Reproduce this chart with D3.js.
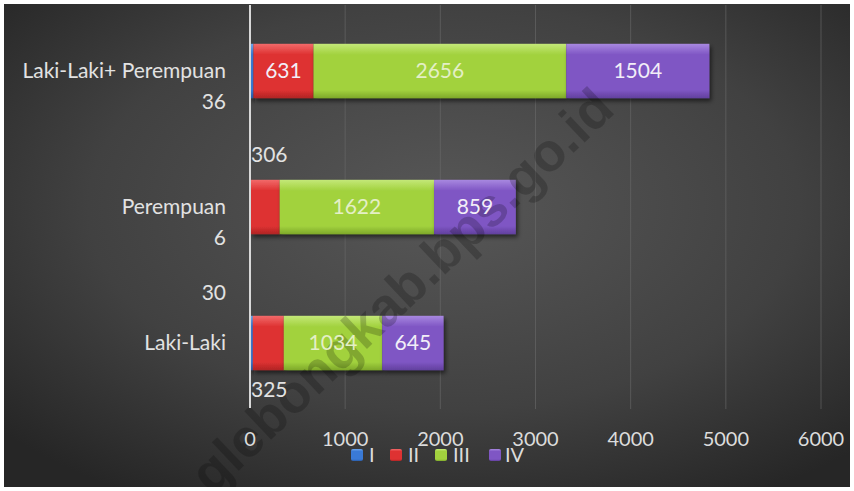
<!DOCTYPE html>
<html><head><meta charset="utf-8">
<script src="https://cdn.jsdelivr.net/npm/d3@7"></script>
<style>html,body{margin:0;padding:0;background:#fff;}svg{display:block;}</style>
</head><body>
<svg id="chart" width="854" height="491"></svg>
<script>
// ---- data ----
const categories = ["Laki-Laki+ Perempuan", "Perempuan", "Laki-Laki"];
const seriesNames = ["I", "II", "III", "IV"];
const seriesI   = [36, 6, 30];
const seriesII  = [631, 306, 325];
const seriesIII = [2656, 1622, 1034];
const seriesIV  = [1504, 859, 645];
const xTicks = [0, 1000, 2000, 3000, 4000, 5000, 6000];

const seriesVals = [seriesI, seriesII, seriesIII, seriesIV];
const rows = categories.map((c, i) => {
  const r = {cat: c};
  seriesNames.forEach((s, k) => r[s] = seriesVals[k][i]);
  return r;
});

const svg = d3.select("#chart");
const W = 854, H = 491;
const font = "Lato, 'Open Sans', sans-serif";

const defs = svg.append("defs");
const bg = defs.append("radialGradient").attr("id", "bg")
  .attr("cx", "0.52").attr("cy", "0.42").attr("r", "0.7");
bg.append("stop").attr("offset", "0").attr("stop-color", "#575757");
bg.append("stop").attr("offset", "0.6").attr("stop-color", "#414141");
bg.append("stop").attr("offset", "1").attr("stop-color", "#262626");

const colors = {
  I:   ["#6ea6ec", "#3a7ad6", "#2a5ca8"],
  II:  ["#f26a6a", "#de3232", "#b02424"],
  III: ["#c4e878", "#a2d23e", "#7ea82a"],
  IV:  ["#a888e0", "#7f56c4", "#62409e"]
};
seriesNames.forEach(s => {
  const g = defs.append("linearGradient").attr("id", "g" + s)
    .attr("x1", 0).attr("y1", 0).attr("x2", 0).attr("y2", 1);
  g.append("stop").attr("offset", "0").attr("stop-color", colors[s][0]);
  g.append("stop").attr("offset", "0.2").attr("stop-color", colors[s][1]);
  g.append("stop").attr("offset", "0.85").attr("stop-color", colors[s][1]);
  g.append("stop").attr("offset", "1").attr("stop-color", colors[s][2]);
});
const sh = defs.append("filter").attr("id", "shadow").attr("x", "-10%").attr("y", "-20%").attr("width", "130%").attr("height", "160%");
sh.append("feDropShadow").attr("dx", 2).attr("dy", 3).attr("stdDeviation", 2).attr("flood-color", "#000").attr("flood-opacity", 0.55);
defs.append("clipPath").attr("id", "clip").append("rect")
  .attr("x", 4).attr("y", 4).attr("width", W - 8).attr("height", H - 8);

// background
svg.append("rect").attr("x", 4).attr("y", 4).attr("width", W - 8).attr("height", H - 8)
  .attr("fill", "url(#bg)");

const x = d3.scaleLinear().domain([0, 6000]).range([250, 821]);
const y = d3.scaleBand().domain(categories).range([3, 411]).paddingInner(0.6).paddingOuter(0.3);

// gridlines
svg.append("g").selectAll("line").data(xTicks.slice(1)).join("line")
  .attr("x1", d => x(d)).attr("x2", d => x(d)).attr("y1", 5).attr("y2", 409)
  .attr("stroke", "#6a6a6a").attr("stroke-width", 1).attr("opacity", 0.6);

// bars
const stack = d3.stack().keys(seriesNames)(rows);
const gBars = svg.append("g");
stack.forEach(layer => {
  gBars.selectAll(null).data(layer).join("rect")
    .attr("x", d => x(d[0])).attr("width", d => x(d[1]) - x(d[0]))
    .attr("y", d => y(d.data.cat)).attr("height", y.bandwidth())
    .attr("fill", "url(#g" + layer.key + ")")
    .attr("filter", "url(#shadow)");
});

// watermark
svg.append("g").attr("clip-path", "url(#clip)").append("text")
  .attr("transform", "translate(212,496) rotate(-43.5)")
  .attr("font-family", "'Liberation Sans', Arial, sans-serif").attr("font-weight", "bold")
  .attr("font-size", 54).attr("fill", "#000").attr("opacity", 0.2)
  .text("glebongkab.bps.go.id");

// axis line
svg.append("line").attr("x1", 250).attr("x2", 250).attr("y1", 5).attr("y2", 408)
  .attr("stroke", "#d8d8d8").attr("stroke-width", 2);

// category labels
svg.append("g").selectAll("text").data(categories).join("text")
  .attr("x", 226).attr("y", d => y(d) + y.bandwidth() / 2)
  .attr("dy", "0.35em").attr("text-anchor", "end")
  .attr("font-family", font).attr("font-size", 21).attr("fill", "#e2e2e2")
  .text(d => d);

// value labels inside bars (III, IV, and II where it fits)
const inside = [];
stack.forEach(layer => {
  layer.forEach((d, i) => {
    if (layer.key === "III" || layer.key === "IV" || (layer.key === "II" && i === 0)) {
      inside.push({key: layer.key, cat: d.data.cat, mid: (d[0] + d[1]) / 2, v: d.data[layer.key]});
    }
  });
});
svg.append("g").selectAll("text").data(inside).join("text")
  .attr("x", d => x(d.mid)).attr("y", d => y(d.cat) + y.bandwidth() / 2)
  .attr("dy", "0.35em").attr("text-anchor", "middle")
  .attr("font-family", font).attr("font-size", 21)
  .attr("fill", d => d.key === "III" ? "#e4efc6" : "#f2eef8")
  .text(d => d.v);

// series I labels (outside, left of axis)
const iOffsets = [31, 31, -50];
svg.append("g").selectAll("text").data(categories).join("text")
  .attr("x", 226).attr("y", (d, i) => y(d) + y.bandwidth() / 2 + iOffsets[i])
  .attr("dy", "0.35em").attr("text-anchor", "end")
  .attr("font-family", font).attr("font-size", 21).attr("fill", "#e2e2e2")
  .text((d, i) => seriesI[i]);

// series II labels displaced outside
const iiOffsets = [null, -52, 47];
svg.append("g").selectAll("text").data([1, 2]).join("text")
  .attr("x", 251).attr("y", i => y(categories[i]) + y.bandwidth() / 2 + iiOffsets[i])
  .attr("dy", "0.35em").attr("text-anchor", "start")
  .attr("font-family", font).attr("font-size", 21).attr("fill", "#e2e2e2")
  .text(i => seriesII[i]);

// x tick labels
svg.append("g").selectAll("text").data(xTicks).join("text")
  .attr("x", d => x(d)).attr("y", 439).attr("dy", "0.35em").attr("text-anchor", "middle")
  .attr("font-family", font).attr("font-size", 20).attr("fill", "#dcdcdc")
  .text(d => d);

// legend
const legX = [351, 390, 435, 489];
const legT = [369, 408, 453, 505];
const lg = svg.append("g");
seriesNames.forEach((s, k) => {
  lg.append("rect").attr("x", legX[k]).attr("y", 449).attr("width", 12).attr("height", 12)
    .attr("rx", 2).attr("fill", "url(#g" + s + ")");
  lg.append("text").attr("x", legT[k]).attr("y", 455).attr("dy", "0.35em")
    .attr("font-family", font).attr("font-size", 20).attr("fill", "#dcdcdc").text(s);
});
</script>
</body></html>
